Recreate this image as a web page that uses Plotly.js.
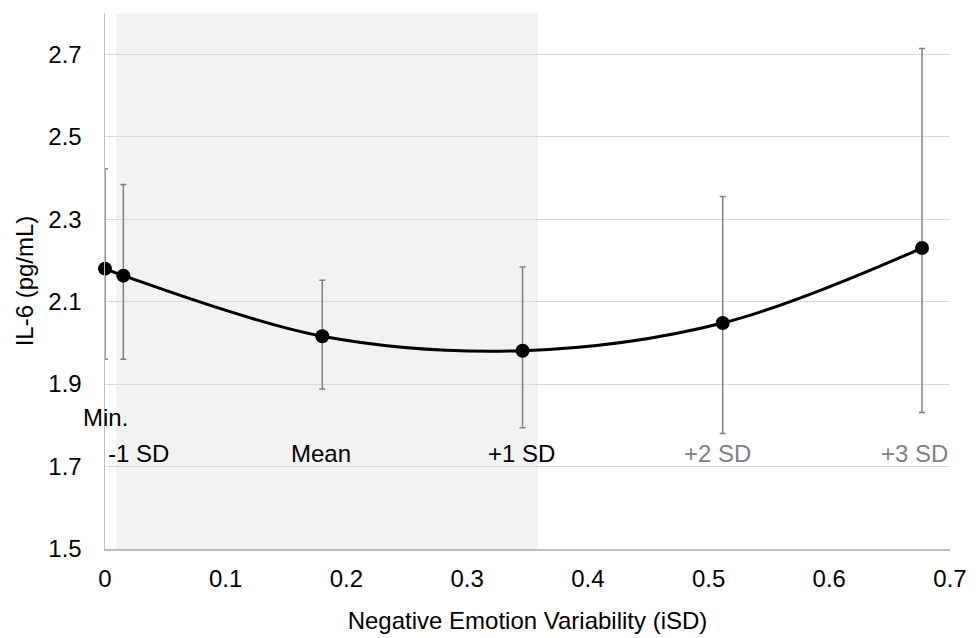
<!DOCTYPE html>
<html>
<head>
<meta charset="utf-8">
<script src="https://cdn.plot.ly/plotly-3.0.1.min.js"></script>
<style>html,body{margin:0;padding:0;background:#fff;}#chart{width:979px;height:638px;}</style>
</head>
<body>
<div id="chart"></div>
<script>
// Data
const xValues = [0, 0.0152, 0.18, 0.3459, 0.5117, 0.6768];
const il6Values = [2.180, 2.163, 2.016, 1.981, 2.048, 2.230];
const upperValues = [2.422, 2.384, 2.152, 2.184, 2.355, 2.714];
const lowerValues = [1.960, 1.960, 1.888, 1.794, 1.780, 1.831];

const labelTexts = ["Min.", "-1 SD", "Mean", "+1 SD", "+2 SD", "+3 SD"];
const labelX = [0, 0.0279, 0.1788, 0.3447, 0.507, 0.671];
const labelY = [1.820, 1.731, 1.731, 1.731, 1.731, 1.731];
const labelColors = ["#000000", "#000000", "#000000", "#000000", "#7f7f7f", "#7f7f7f"];

const shadeRange = [0.00945, 0.3588];
const yTicks = [1.5, 1.7, 1.9, 2.1, 2.3, 2.5, 2.7];
const xTicks = [0, 0.1, 0.2, 0.3, 0.4, 0.5, 0.6, 0.7];

const errPlus = upperValues.map((u, i) => u - il6Values[i]);
const errMinus = lowerValues.map((l, i) => il6Values[i] - l);

const FONT = "Arial, 'Liberation Sans', sans-serif";
const FS = 24;

const trace = {
  x: xValues,
  y: il6Values,
  type: "scatter",
  mode: "lines+markers",
  cliponaxis: false,
  line: {color: "#000000", width: 3, shape: "spline", smoothing: 1},
  marker: {color: "#000000", size: 14},
  error_y: {
    type: "data",
    symmetric: false,
    array: errPlus,
    arrayminus: errMinus,
    color: "#808080",
    thickness: 1.5,
    width: 3
  },
  hoverinfo: "skip",
  showlegend: false
};

const annotations = labelTexts.map((t, i) => ({
  x: labelX[i], y: labelY[i], xref: "x", yref: "y",
  text: t, showarrow: false,
  xanchor: "center", yanchor: "middle",
  font: {family: FONT, size: FS, color: labelColors[i]}
}));

const layout = {
  width: 979, height: 638,
  margin: {l: 105, r: 29, t: 13, b: 89},
  paper_bgcolor: "#ffffff",
  plot_bgcolor: "#ffffff",
  font: {family: FONT, size: FS, color: "#000000"},
  xaxis: {
    range: [0, 0.7],
    tickvals: xTicks,
    ticktext: xTicks.map(v => String(v)),
    showgrid: false,
    zeroline: false,
    showline: true,
    linecolor: "#bfbfbf",
    linewidth: 1.5,
    ticks: "",
    ticklabelstandoff: 8,
    tickfont: {family: FONT, size: FS, color: "#000000"},
    title: {text: "Negative Emotion Variability (iSD)", standoff: 21, font: {family: FONT, size: FS, color: "#000000"}}
  },
  yaxis: {
    range: [1.5, 2.8],
    tickvals: yTicks,
    ticktext: yTicks.map(v => v.toFixed(1)),
    showgrid: true,
    gridcolor: "#d9d9d9",
    gridwidth: 1,
    zeroline: false,
    showline: true,
    linecolor: "#bfbfbf",
    linewidth: 1.5,
    ticks: "",
    ticklabelstandoff: 17,
    tickfont: {family: FONT, size: FS, color: "#000000"},
    title: {text: "IL-6 (pg/mL)", standoff: 8, font: {family: FONT, size: FS, color: "#000000"}}
  },
  shapes: [{
    type: "rect", layer: "below",
    xref: "x", yref: "paper",
    x0: shadeRange[0], x1: shadeRange[1], y0: 0, y1: 1,
    fillcolor: "#f2f2f2", line: {width: 0}
  }],
  annotations: annotations
};

Plotly.newPlot("chart", [trace], layout, {displayModeBar: false, staticPlot: true});
</script>
</body>
</html>
